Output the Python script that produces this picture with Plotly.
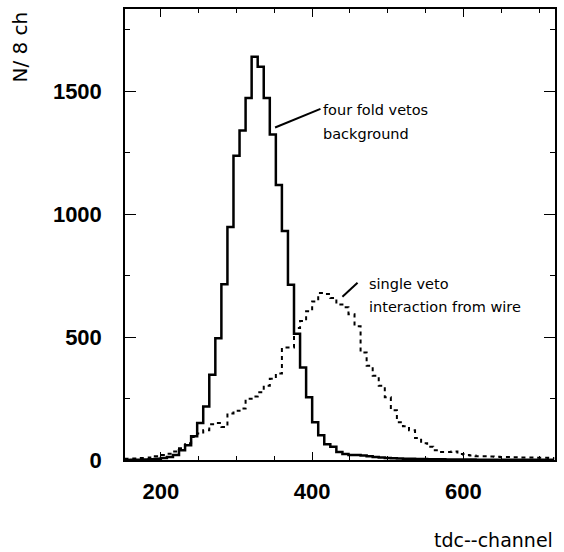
import plotly.graph_objects as go

# ---- data (bins of 8 channels) ----
bin_start = list(range(152, 720, 8))

four_fold = [0, 1, 1, 2, 3, 5, 8, 12, 20, 40, 60, 97, 150, 218, 347, 495, 715, 948,
             1237, 1340, 1472, 1640, 1599, 1472, 1324, 1118, 931, 713, 513, 376, 255,
             154, 101, 64, 54, 33, 24, 20, 20, 18, 15, 12, 10, 8, 7, 6, 5, 5, 4, 4,
             3, 3, 3, 2, 2, 2, 2, 2, 1, 1, 1, 1, 1, 1, 1, 1, 1, 1, 1, 1, 1]

single_veto = [5, 6, 8, 8, 10, 15, 20, 25, 35, 48, 68, 94, 108, 121, 145, 150, 134,
               189, 200, 209, 249, 258, 275, 302, 330, 352, 457, 457, 537, 565, 605,
               645, 679, 675, 659, 632, 621, 593, 544, 437, 383, 343, 302, 255, 202,
               154, 137, 121, 89, 68, 54, 40, 33, 33, 35, 24, 20, 18, 15, 15, 14, 13,
               12, 12, 11, 10, 10, 10, 9, 9, 8]

n = min(len(bin_start), len(four_fold), len(single_veto))
bin_start = bin_start[:n]
four_fold = four_fold[:n]
single_veto = single_veto[:n]
edges = bin_start + [bin_start[-1] + 8]

x_ticks = [200, 400, 600]
y_ticks = [0, 500, 1000, 1500]

fig = go.Figure()
fig.add_trace(go.Scatter(x=edges, y=single_veto + [single_veto[-1]], mode="lines",
                         line=dict(shape="hv", color="black", width=2, dash="4px,4px"),
                         showlegend=False))
fig.add_trace(go.Scatter(x=edges, y=four_fold + [four_fold[-1]], mode="lines",
                         line=dict(shape="hv", color="black", width=2.5),
                         showlegend=False))

txt = dict(family="DejaVu Sans", size=14.5, color="black")
fig.add_annotation(x=412, y=1425, text="four fold vetos", showarrow=False,
                   xanchor="left", yanchor="middle", font=txt)
fig.add_annotation(x=412, y=1324, text="background", showarrow=False,
                   xanchor="left", yanchor="middle", font=txt)
fig.add_annotation(x=472, y=717, text="single veto", showarrow=False,
                   xanchor="left", yanchor="middle", font=txt)
fig.add_annotation(x=472, y=623, text="interaction from wire", showarrow=False,
                   xanchor="left", yanchor="middle", font=txt)
fig.add_shape(type="line", x0=351, y0=1352, x1=411, y1=1428,
              line=dict(color="black", width=2))
fig.add_shape(type="line", x0=440, y0=664, x1=460, y1=721,
              line=dict(color="black", width=2))

# axis titles placed as annotations
fig.add_annotation(x=-0.245, y=0.916, xref="paper", yref="paper", text="N/ 8 ch",
                   showarrow=False, textangle=-90, xanchor="center", yanchor="middle",
                   font=dict(family="DejaVu Sans", size=20, color="black"))
fig.add_annotation(x=1.0, y=-0.1766, xref="paper", yref="paper", text="tdc--channel",
                   showarrow=False, xanchor="right", yanchor="middle",
                   font=dict(family="DejaVu Sans", size=19, color="black"))

tickfont = dict(family="Liberation Sans", size=22, color="black", weight="bold")
fig.update_xaxes(range=[152.6, 721], tickvals=x_ticks, ticks="inside", ticklen=8,
                 tickwidth=1.2, tickcolor="black", showline=True, linecolor="black",
                 linewidth=1.5, mirror="allticks", showgrid=False, zeroline=False,
                 tickfont=tickfont, ticklabelstandoff=11,
                 minor=dict(dtick=50, ticks="inside", ticklen=4, tickcolor="black", tickwidth=1))
fig.update_yaxes(range=[0, 1834], tickvals=y_ticks, ticks="inside", ticklen=11,
                 tickwidth=1.2, tickcolor="black", showline=True, linecolor="black",
                 linewidth=1.5, mirror="allticks", showgrid=False, zeroline=False,
                 tickfont=tickfont, ticklabelstandoff=17,
                 minor=dict(dtick=250, ticks="inside", ticklen=5, tickcolor="black", tickwidth=1))

fig.update_layout(width=564, height=552, margin=dict(l=125, r=7, t=7, b=92),
                  plot_bgcolor="white", paper_bgcolor="white")

fig.write_html("out.html")
